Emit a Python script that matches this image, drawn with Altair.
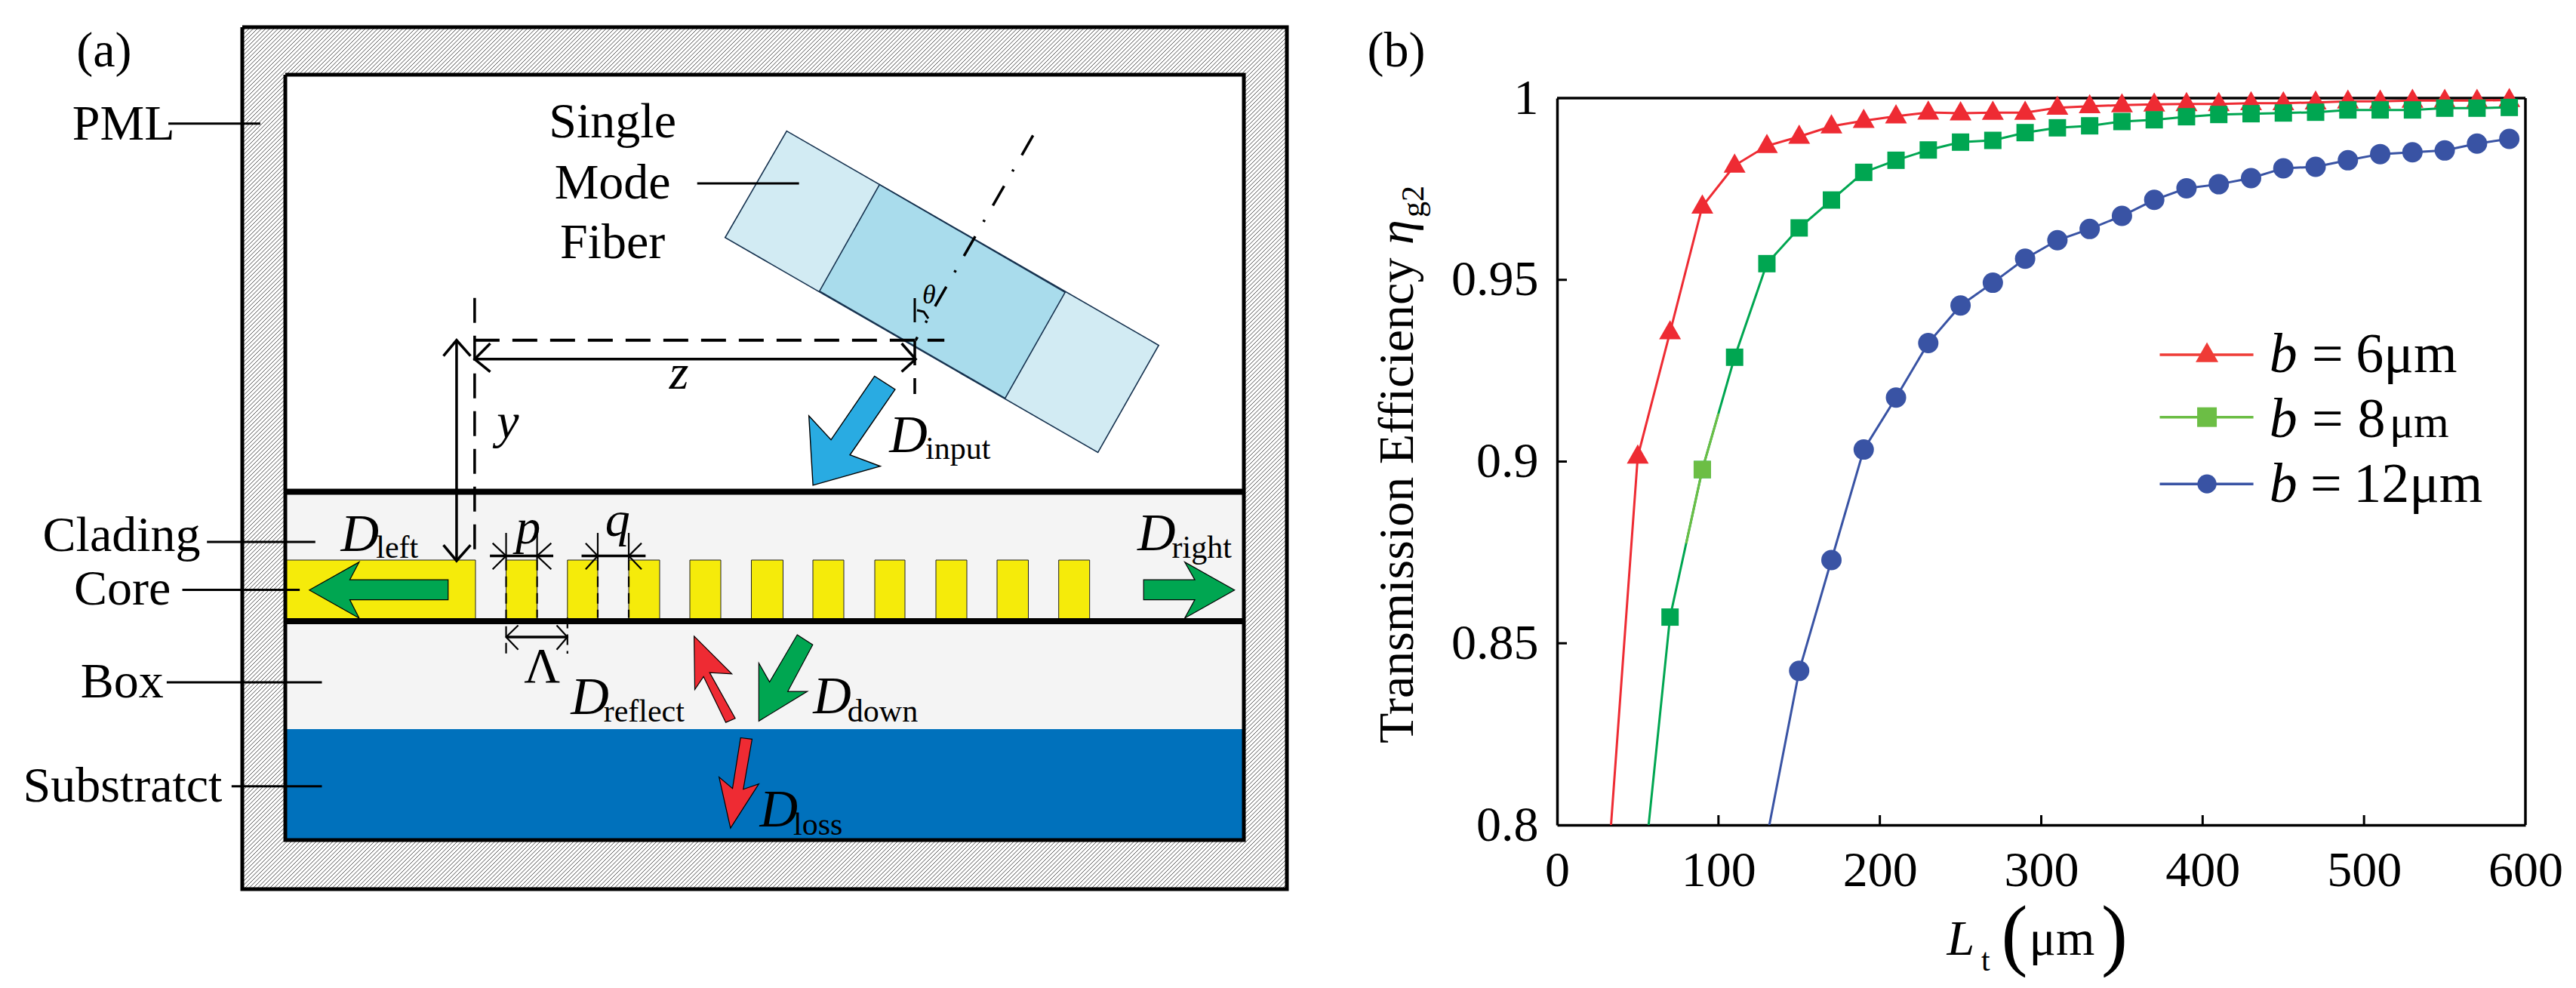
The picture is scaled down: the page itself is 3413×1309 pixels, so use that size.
import altair as alt
import pandas as pd

# ---------- panel (b) data ----------
x_full = [50, 70, 90, 110, 130, 150, 170, 190, 210, 230, 250, 270, 290, 310, 330, 350, 370, 390, 410, 430, 450, 470, 490, 510, 530, 550, 570, 590]
y_b6 = [.9014, .9356, .9702, .98145, .98685, .98941, .99225, .99377, .99502, .99605, .99585, .9960, .9960, .99737, .99778, .99806, .99827, .9984, .9984, .99862, .99862, .99882, .9991, .9991, .9993, .9993, .9993, .9995]
x_b8 = x_full[1:]
y_b8 = [.8572, .8978, .9287, .95445, .96428, .97196, .97958, .9829, .98573, .98789, .98837, .99051, .99183, .99238, .99356, .99404, .99488, .9955, .99571, .99591, .99612, .99675, .99675, .99675, .99723, .99723, .99744]
x_b12 = x_full[5:]
y_b12 = [.8424, .8729, .9033, .9176, .9326, .94295, .9492, .9558, .9609, .964, .9676, .972, .9752, .9763, .978, .9807, .9811, .9829, .9846, .9851, .9856, .9875, .9888]
offscale = {"b6": (30, .779), "b8": (50, .771), "b12": (130, .7965)}
light_x = [80, 90, 100]
light_y = [.8775, .8978, .9132]
x_ticks = [0, 100, 200, 300, 400, 500, 600]
y_ticks = [.8, .85, .9, .95, 1]
RED, GREEN, BLUE, LGREEN = "#EE2B33", "#00A651", "#3953A4", "#6CBE45"
TRI = "M0,-1.1 L1,0.65 L-1,0.65 Z"
FONT = "Liberation Serif"

# ---------- panel (a) helpers: image pixels to panel pixels ----------
def z1(x, y):
    return (x * 1706 / 1568 - 8, y * 1309 / 1568 - 8)
def z6(x, y):
    return (x / 1.12 + 300 - 8, y / 2.8 + 600 - 8)
def px(x, y):
    return (x - 8, y - 8)

def geo(kind, coords):
    return {"type": "Feature", "properties": {}, "geometry": {"type": kind, "coordinates": coords}}
def poly(pts):
    pts = [list(p) for p in pts]
    return geo("Polygon", [pts + [pts[0]]])
def line(pts):
    return geo("LineString", [list(p) for p in pts])
def rect(x0, y0, x1, y1):
    return poly([px(x0, y0), px(x1, y0), px(x1, y1), px(x0, y1)])

PROJ = dict(type="identity", scale=1, translate=[0, 0])
def shape(features, **mark):
    return alt.Chart(alt.Data(values=features)).mark_geoshape(**mark).project(**PROJ)
def fill(features, color, stroke=None, sw=0):
    kw = dict(fill=color, strokeWidth=sw)
    kw["stroke"] = stroke if stroke else color
    return shape(features, **kw)
def stroke(features, sw, dash=None, color="black"):
    kw = dict(filled=False, fill="transparent", stroke=color, strokeWidth=sw)
    if dash:
        kw["strokeDash"] = dash
    return shape(features, **kw)

def texts(rows, italic=False, align="left", angle=None):
    kw = dict(font=FONT, align=align, baseline="alphabetic", color="black")
    if italic:
        kw["fontStyle"] = "italic"
    if angle is not None:
        kw["angle"] = angle
    df = pd.DataFrame(rows, columns=["x", "y", "t", "s"])
    return alt.Chart(df).mark_text(**kw).encode(
        x=alt.X("x:Q", scale=None, axis=None),
        y=alt.Y("y:Q", scale=None, axis=None),
        text="t:N",
        size=alt.Size("s:Q", scale=None, legend=None),
    )
def t1(x, y, s, size):
    a, b = z1(x, y)
    return (a, b, s, size)

# hatch of the PML frame
OX0, OY0, OX1, OY1 = 321, 36, 1705, 1178
hatch = []
c = OX0 + OY0
while c < OX1 + OY1:
    xa = max(OX0, c - OY1)
    xb = min(OX1, c - OY0)
    if xb > xa:
        hatch.append(line([px(xa, c - xa), px(xb, c - xb)]))
    c += 5.5

teeth = [(670.5, 711.6), (751.8, 792), (833, 874), (914, 955), (995.5, 1037.5), (1077, 1118), (1159, 1199), (1240, 1281), (1321, 1362.5), (1402.7, 1443.7)]

layers_a = [
    stroke(hatch, 1.0, color="#555555"),
    fill([rect(378, 99, 1648, 652)], "white"),
    fill([rect(378, 652, 1648, 966)], "#F4F4F4"),
    fill([rect(378, 966, 1648, 1113)], "#0071BC"),
    fill([rect(378, 742, 630, 823)] + [rect(a, 742, b, 823) for a, b in teeth], "#F5EB0A", "#222222", 1),
    # fibre
    fill([poly([z1(958, 208), z1(1411, 548), z1(1337, 718), z1(883, 377)])], "#D2EBF3", "#16324F", 1.6),
    fill([poly([z1(1071, 293), z1(1297, 464), z1(1224, 632), z1(998, 462)])], "#A9DCEC", "#16324F", 1.6),
    # arrows
    fill([poly([z1(990, 770), z1(985, 660), z1(1012, 698), z1(1065, 597), z1(1090, 618), z1(1035, 722), z1(1072, 740)])], "#29ABE2", "black", 1.4),
    fill([poly([z6(123, 509), z6(197, 405), z6(183, 471), z6(329, 471), z6(329, 545), z6(183, 545), z6(197, 613)]),
          poly([z6(1496, 509), z6(1422, 405), z6(1437, 471), z6(1361, 471), z6(1361, 545), z6(1437, 545), z6(1422, 613)]),
          poly([z6(847, 675), z6(870, 712), z6(833, 885), z6(862, 885), z6(790, 995), z6(790, 780), z6(806, 850)])], "#00A651", "black", 1.2),
    fill([poly([z6(694, 680), z6(750, 820), z6(717, 815), z6(755, 985), z6(741, 1000), z6(708, 830), z6(695, 878)]),
          poly([z6(763, 1057), z6(780, 1062), z6(767, 1248), z6(790, 1228), z6(748, 1392), z6(731, 1203), z6(751, 1245)])], "#EE2B33", "black", 1.2),
    # boundaries
    stroke([line([px(321, 36), px(1705, 36), px(1705, 1178), px(321, 1178), px(321, 36)]),
            line([px(378, 99), px(1648, 99), px(1648, 1113), px(378, 1113), px(378, 99)])], 5),
    stroke([line([px(378, 651.5), px(1648, 651.5)]), line([px(378, 823), px(1648, 823)])], 8),
    # leaders
    stroke([line([z1(205, 196), z1(317, 196)]), line([z1(849, 291), z1(973, 291)]), line([z1(252, 860), z1(384, 860)]),
            line([z1(222, 936), z1(365, 936)]), line([z1(203, 1083), z1(392, 1083)]), line([z1(282, 1248), z1(392, 1248)])], 3),
    # dimension lines
    stroke([line([z1(578, 570), z1(1115, 570)]), line([z1(556, 540), z1(556, 890)]),
            line([z1(597, 545), z1(578, 570), z1(597, 590)]), line([z1(1098, 545), z1(1115, 570), z1(1098, 590)]),
            line([z1(540, 565), z1(556, 540), z1(573, 565)]), line([z1(540, 865), z1(556, 890), z1(573, 865)])], 3.5),
    stroke([line([z1(578, 540), z1(1150, 540)])], 4, [33, 17]),
    stroke([line([z1(578, 473), z1(578, 888)]), line([px(1212, 451), px(1212, 522)])], 3.5, [33, 17]),
    stroke([line([z1(1258, 215), z1(1115, 540)])], 3.5, [30, 22, 3, 22]),
    stroke([line([px(1212, 395), px(1212, 427)]), line([px(1215, 411), px(1224, 413), px(1230, 422)])], 3),
    # p, q, Lambda
    stroke([line([z6(391, 382), z6(485, 382)]), line([z6(527, 382), z6(622, 382)]), line([z6(415, 683), z6(506, 683)])], 3.5),
    stroke([line([z6(395, 335), z6(415, 382), z6(395, 432)]), line([z6(482, 335), z6(461, 382), z6(482, 432)]),
            line([z6(533, 335), z6(551, 382), z6(533, 432)]), line([z6(616, 335), z6(597, 382), z6(616, 432)]),
            line([z6(433, 640), z6(415, 683), z6(433, 730)]), line([z6(490, 640), z6(506, 683), z6(490, 730)]),
            line([z6(415, 297), z6(415, 397)]), line([z6(461, 297), z6(461, 397)]),
            line([z6(551, 297), z6(551, 397)]), line([z6(597, 297), z6(597, 397)])], 2.2),
    stroke([line([z6(415, 397), z6(415, 745)]), line([z6(461, 397), z6(461, 612)]), line([z6(506, 612), z6(506, 745)]),
            line([z6(551, 397), z6(551, 612)]), line([z6(597, 397), z6(597, 612)])], 2.2, [14, 8]),
    # text
    texts([t1(93, 105, "(a)", 66), t1(88, 222, "PML", 66), t1(52, 875, "Clading", 66), t1(90, 960, "Core", 66),
           t1(98, 1107, "Box", 66), t1(28, 1272, "Substratct", 66), t1(638, 1083, "Λ", 66)]),
    texts([t1(746, 218, "Single", 66), t1(746, 315, "Mode", 66), t1(746, 410, "Fiber", 66)], align="center"),
    texts([t1(815, 617, "z", 66), t1(605, 695, "y", 66), t1(628, 862, "p", 66), t1(737, 850, "q", 66),
           t1(1083, 717, "D", 70), t1(415, 875, "D", 70), t1(1385, 873, "D", 70), t1(695, 1133, "D", 70),
           t1(990, 1132, "D", 70), t1(925, 1312, "D", 70), (1214, 394, "θ", 36)], italic=True),
    texts([t1(1127, 728, "input", 42), t1(458, 885, "left", 42), t1(1427, 885, "right", 42), t1(735, 1145, "reflect", 42),
           t1(1032, 1145, "down", 42), t1(966, 1325, "loss", 42)]),
]
panel_a = alt.layer(*layers_a).properties(width=1960, height=1240)

# ---------- panel (b) ----------
W, H, TOP = 1283, 1085, 122
X = alt.X("x:Q", scale=alt.Scale(domain=[0, 600], range=[0, W], nice=False),
          axis=alt.Axis(values=x_ticks, format="d", title=None, grid=False, ticks=False, labelFont=FONT, labelFontSize=66,
                        labelColor="black", labelPadding=28, domainColor="black", domainWidth=3.5, labelFlush=False))
Y = alt.Y("y:Q", scale=alt.Scale(domain=[.8, 1], range=[H, TOP], nice=False, zero=False),
          axis=alt.Axis(values=y_ticks, format="~g", title=None, grid=False, ticks=False, labelFont=FONT, labelFontSize=66,
                        labelColor="black", labelPadding=25, domainColor="black", domainWidth=3.5, labelFlush=False))

def series(xs, ys, off, color, sh, size):
    d = pd.DataFrame({"x": xs, "y": ys})
    full = pd.concat([pd.DataFrame({"x": [off[0]], "y": [off[1]]}), d])
    return [alt.Chart(full).mark_line(color=color, strokeWidth=3, clip=True).encode(x=X, y=Y),
            alt.Chart(d).mark_point(filled=True, opacity=1, color=color, shape=sh, size=size).encode(x=X, y=Y)]

frame_df = pd.DataFrame({"x": [600], "y": [.8], "y2": [1]})
top_df = pd.DataFrame({"x": [0], "x2": [600], "y": [1]})
tick_x = pd.DataFrame({"x": x_ticks[1:-1]})
tick_y = pd.DataFrame({"y": y_ticks[1:-1]})

light = pd.DataFrame({"x": light_x, "y": light_y})
layers_b = [
    alt.Chart(frame_df).mark_rule(color="black", strokeWidth=3.5).encode(x=X, y=Y, y2="y2:Q"),
    alt.Chart(top_df).mark_rule(color="black", strokeWidth=3.5).encode(x=X, x2="x2:Q", y=Y),
    alt.Chart(tick_x).mark_rule(color="black", strokeWidth=3).encode(x=X, y=alt.value(H), y2=alt.value(H - 13)),
    alt.Chart(tick_y).mark_rule(color="black", strokeWidth=3).encode(y=Y, x=alt.value(0), x2=alt.value(13)),
]
layers_b += series(x_b12, y_b12, offscale["b12"], BLUE, "circle", 729)
layers_b += series(x_full, y_b6, offscale["b6"], RED, TRI, 841)
layers_b += series(x_b8, y_b8, offscale["b8"], GREEN, "square", 529)
layers_b += [
    alt.Chart(light).mark_line(color=LGREEN, strokeWidth=3).encode(x=X, y=Y),
    alt.Chart(light.iloc[[1]]).mark_point(filled=True, opacity=1, color=LGREEN, shape="square", size=529).encode(x=X, y=Y),
]

# legend, drawn as marks in panel pixels
def zb(x, y):
    return (x * 1663 / 1568 + 1750 - 2063, y * 1309 / 1568 - 8)
def tb(x, y, s, size):
    a, b = zb(x, y)
    return (a, b, s, size)

PXX = alt.X("x:Q", scale=None, axis=None)
PXY = alt.Y("y:Q", scale=None, axis=None)
for yy, col, sh, size in [(563, "#EF3B36", TRI, 900), (662, LGREEN, "square", 676), (768, BLUE, "circle", 640)]:
    a0, b0 = zb(1048, yy)
    a1, _ = zb(1165, yy)
    am, _ = zb(1107, yy)
    layers_b.append(alt.Chart(pd.DataFrame({"x": [a0, a1], "y": [b0, b0]})).mark_line(color=col, strokeWidth=3.5).encode(x=PXX, y=PXY))
    layers_b.append(alt.Chart(pd.DataFrame({"x": [am], "y": [b0]})).mark_point(filled=True, opacity=1, color=col, shape=sh, size=size).encode(x=PXX, y=PXY))

layers_b += [
    texts([tb(1185, 590, "b", 74), tb(1185, 693, "b", 74), tb(1185, 797, "b", 74),
           tb(782, 1515, "L", 66)], italic=True),
    texts([tb(1238, 590, "=", 74), tb(1293, 590, "6μm", 74), tb(1238, 693, "=", 74), tb(1295, 693, "8", 74), tb(1335, 693, "μm", 60),
           tb(1236, 797, "=", 74), tb(1290, 797, "12μm", 74), tb(58, 105, "(b)", 66),
           tb(825, 1540, "t", 42), tb(885, 1515, "μm", 66), tb(850, 1525, "(", 105), tb(975, 1525, ")", 105)]),
    texts([tb(115, 1180, "Transmission Efficiency", 66)], angle=270),
    texts([tb(115, 388, "η", 66)], italic=True, angle=270),
    texts([tb(128, 345, "g2", 42)], angle=270),
]
panel_b = alt.layer(*layers_b).properties(width=W, height=H)

chart = (
    alt.hconcat(panel_a, panel_b, spacing=95, bounds="flush")
    .properties(padding=0, background="white")
    .configure_view(stroke=None)
)
chart.save("out.html", embed_options={"renderer": "svg", "actions": False})
